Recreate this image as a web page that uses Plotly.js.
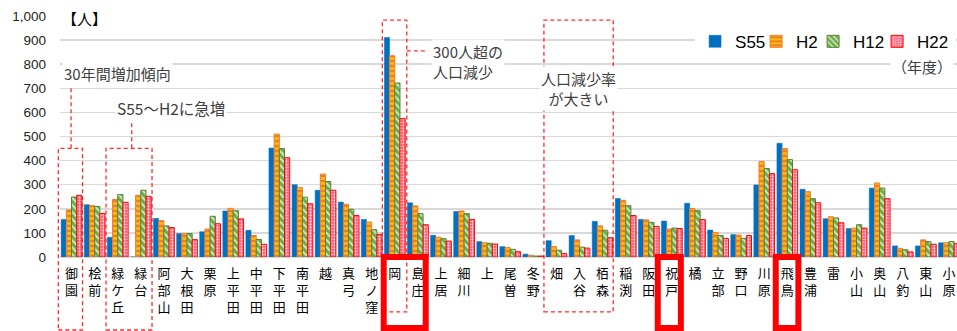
<!DOCTYPE html>
<html>
<head>
<meta charset="utf-8">
<script src="https://cdn.plot.ly/plotly-3.0.1.min.js"></script>
<style>
  html, body { margin: 0; padding: 0; background: #fff; }
  #chart { width: 957px; height: 331px; }
</style>
</head>
<body>
<div id="chart"></div>
<script>
// 大字別人口（S55・H2・H12・H22）
const districts = ['御園','桧前','緑ケ丘','緑台','阿部山','大根田','栗原','上平田','中平田','下平田',
  '南平田','越','真弓','地ノ窪','岡','島庄','上居','細川','上','尾曽','冬野','畑','入谷','栢森',
  '稲渕','阪田','祝戸','橘','立部','野口','川原','飛鳥','豊浦','雷','小山','奥山','八釣','東山','小原'];

const s55 = [156,217,82,0,160,97,105,191,111,452,300,277,228,156,911,225,90,189,64,43,12,68,89,148,
  243,156,149,223,112,93,299,472,281,159,118,286,46,46,59];
const h2  = [195,213,239,256,151,97,116,202,89,510,288,344,219,145,835,212,82,191,59,39,7,43,71,129,
  235,154,116,201,102,91,396,450,271,167,120,307,36,71,59];
const h12 = [249,210,259,277,129,97,169,192,73,450,248,313,198,113,722,180,76,180,57,32,4,28,41,111,
  213,144,120,192,89,77,367,404,242,162,134,286,30,64,64];
const h22 = [256,181,227,252,122,72,138,158,53,412,221,277,172,93,574,134,66,156,54,22,4,14,37,80,
  172,127,118,155,77,89,346,362,225,142,120,242,21,53,55];

const seriesNames = ['S55', 'H2', 'H12', 'H22'];
const yTicks = [0,100,200,300,400,500,600,700,800,900,1000];
const yTickText = ['0','100','200','300','400','500','600','700','800','900','1,000'];

// vertical labels: one character per line
const tickText = districts.map(d => Array.from(d).join('<br>'));

const X0 = -0.5, X1 = 38.35;          // visible category range
const xp = u => (u - X0) / (X1 - X0);   // category units -> paper
const yp = v => v / 1000;               // axis value units -> paper

const jp = '"Noto Sans CJK JP", "Noto Sans", sans-serif';
const lat = '"Liberation Sans", Arial, sans-serif';

const traces = [
  { name: seriesNames[0], y: s55, legendwidth: 16,
    marker: { color: '#0070C0', line: { color: '#0070C0', width: 0.5 } } },
  { name: seriesNames[1], y: h2, legendwidth: 12,
    marker: { color: '#ED7D31', line: { color: '#ED7D31', width: 1 },
      pattern: { shape: '-', bgcolor: '#ED7D31', fgcolor: '#FFC000', size: 5, solidity: 0.5 } } },
  { name: seriesNames[2], y: h12, legendwidth: 19,
    marker: { color: '#70AD47', line: { color: '#548235', width: 1 },
      pattern: { shape: '\\', bgcolor: '#70AD47', fgcolor: '#D6ECC8', size: 5, solidity: 0.35 } } },
  { name: seriesNames[3], y: h22, legendwidth: 34,
    marker: { color: '#FF4D6A', line: { color: '#FF0000', width: 1 },
      pattern: { shape: '.', bgcolor: '#FF4D6A', fgcolor: '#FFD6DD', size: 3, solidity: 0.45 } } }
].map(t => Object.assign({ type: 'bar', x: districts, hoverinfo: 'skip' }, t));

const dashLine = { color: 'rgba(255,20,20,0.9)', width: 1.3, dash: '4px,3px' };
const dashedBox = (u0, u1, v0, v1) => ({ type: 'rect', xref: 'paper', yref: 'paper',
  x0: xp(u0), x1: xp(u1), y0: yp(v0), y1: yp(v1), line: dashLine, layer: 'above' });
const dashedSeg = (u0, v0, u1, v1) => ({ type: 'line', xref: 'paper', yref: 'paper',
  x0: xp(u0), x1: xp(u1), y0: yp(v0), y1: yp(v1), line: dashLine, layer: 'above' });
const redFrame = (u0, u1) => ({ type: 'rect', xref: 'paper', yref: 'paper',
  x0: xp(u0), x1: xp(u1), y0: yp(0), y1: yp(-295), line: { color: '#FF0000', width: 6 }, layer: 'above' });

const shapes = [
  dashedBox(-0.572, 0.476, -303, 451), dashedSeg(-0.02, 451, -0.02, 722),
  dashedBox(1.494, 3.486, -303, 451), dashedSeg(2.607, 451, 2.607, 564),
  dashedBox(13.46, 14.52, -228, 983), dashedSeg(14.52, 855, 15.40, 855),
  dashedBox(20.46, 23.46, -228, 983),
  redFrame(13.52, 15.34), redFrame(25.39, 26.39), redFrame(30.50, 31.48)
];

const note = (text, x, y, xanchor, size, align) => ({
  text, x, y, xref: 'x', yref: 'y', xanchor, yanchor: 'middle', showarrow: false,
  align: align || 'left', bgcolor: '#FFFFFF', borderpad: 1,
  font: { family: jp, size: size, color: '#404040' }
});

const annotations = [
  note('30年間増加傾向', -0.41, 763, 'left', 15),
  note('S55～H2に急増', 1.88, 618, 'left', 15.5),
  note('300人超の<br>人口減少', 15.57, 813, 'left', 15),
  note('人口減少率<br>が大きい', 21.96, 701, 'center', 15, 'center'),
  note('（年度）', 36.85, 790, 'center', 15),
  { text: '【人】', xref: 'paper', yref: 'paper', x: 0, y: 0.99, xanchor: 'left', yanchor: 'middle',
    showarrow: false, bgcolor: '#FFFFFF', font: { family: jp, size: 15, color: '#000' } }
];

const layout = {
  width: 957, height: 331,
  margin: { l: 60, r: 0, t: 16, b: 74 },
  paper_bgcolor: '#FFFFFF', plot_bgcolor: '#FFFFFF',
  barmode: 'group', bargap: 0.1, bargroupgap: 0,
  xaxis: {
    type: 'category', range: [X0, X1], tickvals: districts, ticktext: tickText,
    showgrid: false, showline: false, zeroline: false, ticks: '', tickangle: 0,
    ticklabelstandoff: 7,
    tickfont: { family: jp, size: 13, color: '#000' }
  },
  yaxis: {
    range: [0, 1000], tickvals: yTicks, ticktext: yTickText,
    showgrid: true, gridcolor: '#D9D9D9', gridwidth: 1.5,
    zeroline: true, zerolinecolor: '#D9D9D9', zerolinewidth: 1.5,
    showline: false, ticks: '', ticklabelstandoff: 13,
    tickfont: { family: lat, size: 13.5, color: '#222' }
  },
  legend: {
    orientation: 'h', xanchor: 'left', yanchor: 'middle', x: 0.708, y: 0.893,
    bgcolor: '#FFFFFF', borderwidth: 0, itemwidth: 30, entrywidthmode: 'pixels',
    font: { family: lat, size: 17, color: '#000' }, itemclick: false
  },
  showlegend: true,
  shapes, annotations
};

Plotly.newPlot('chart', traces, layout, { displayModeBar: false, staticPlot: true });
</script>
</body>
</html>
